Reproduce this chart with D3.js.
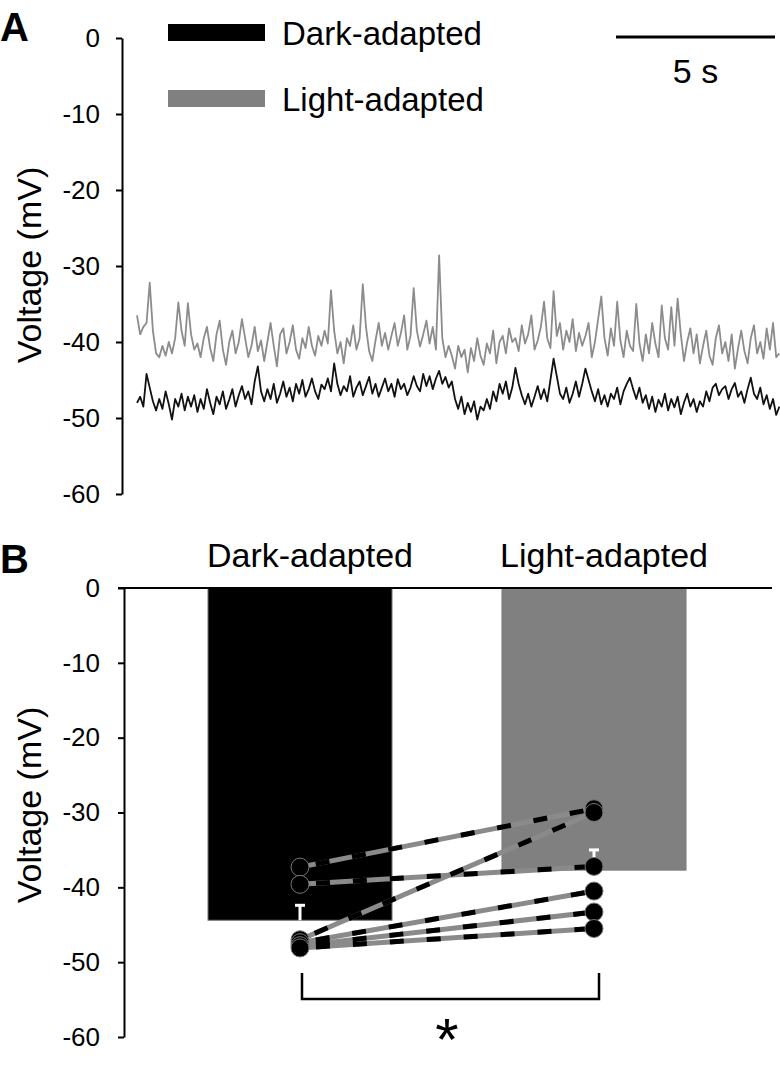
<!DOCTYPE html>
<html>
<head>
<meta charset="utf-8">
<script src="https://cdn.jsdelivr.net/npm/d3@7"></script>
<style>
  html, body { margin: 0; padding: 0; background: #fff; }
  svg { display: block; font-family: "Liberation Sans", Arial, sans-serif; }
</style>
</head>
<body>
<svg id="chart" width="780" height="1077"></svg>
<script>
// ---------------- DATA ----------------
const sampleStep = 0.1; // seconds between trace samples
const lightTrace = [
  -36.5, -39, -38, -37.5, -32.2, -38.5, -41.5, -42, -40.5, -41.8,
  -40, -41.5, -39.5, -34.8, -38.5, -40.5, -34.9, -39, -41, -40.2,
  -42, -39.5, -38, -40.8, -42.5, -39, -37.2, -41, -43, -40,
  -38.5, -41.5, -40, -37, -39.5, -42, -40.5, -38, -41.2, -39.8,
  -42.5, -40, -37.5, -40.5, -43.2, -39, -38.2, -41.5, -40, -37.8,
  -41, -42.2, -39.5, -40.8, -38, -40.5, -41.8, -39.2, -40.5, -38.5,
  -40.2, -33.2, -38.5, -41.5, -40, -42.8, -39.5, -40.5, -37.8, -41,
  -39.5, -32.4, -38, -41.2, -42.5, -39.8, -37.5, -40.5, -38.8, -41,
  -39.2, -37.5, -40.5, -38.8, -36.5, -41, -39.2, -32.9, -38.5, -40.6,
  -39, -37.2, -40.2, -38, -41, -28.6, -39.5, -42, -40.5, -41.8,
  -43.5, -40.5, -42, -41, -44, -40.8, -42.5, -39.5, -41.8, -43,
  -40.2, -41.5, -38.5, -42.8, -40, -39.2, -41.5, -38.2, -40, -39.5,
  -41.2, -37.8, -40.2, -39, -36.5, -41, -39.8, -38, -34.7, -39.5,
  -40.8, -33.3, -39.2, -37.5, -41, -38.5, -40, -37, -41.2, -38.8,
  -40.5, -39.2, -37.5, -42, -40, -37, -34, -39.5, -41.8, -38.2,
  -40.5, -34.7, -39.8, -42, -38.5, -40.5, -41.2, -35, -40.2, -42.5,
  -39, -41.5, -37.5, -40.2, -42, -35.2, -39.5, -41, -35.4, -40.5,
  -34.3, -39, -42.5, -40, -38.2, -41.5, -39, -42.8, -40.5, -38.5,
  -41.8, -43, -39.5, -37.8, -41.5, -40, -42.5, -39, -43.5, -40.8,
  -38.5, -41.2, -42.8, -39.5, -37.8, -41.5, -40, -42.2, -38.2, -41,
  -37.5, -42, -41.5
];
const darkTrace = [
  -48, -47.2, -48.5, -44.2, -46, -47.8, -49, -47.5, -48.8, -46.5,
  -48.2, -50.2, -47.5, -48.5, -46.8, -49, -47.2, -48.5, -47, -49.2,
  -47.5, -48.8, -46.2, -48, -49.5, -47.2, -48.2, -46.5, -48.8, -47.6,
  -46.2, -48.5, -47, -45.8, -47.5, -46.5, -48.2, -45.2, -43.2, -46.5,
  -47.8, -46.2, -47.5, -45.5, -48, -46.8, -45.2, -47.2, -46, -47.8,
  -45.5, -46.8, -45, -47.2, -46.2, -44.8, -46.5, -47.5, -45.6, -46.2,
  -44.8, -46.5, -42.8, -45.5, -47, -45.8, -46.5, -44.5, -47.2, -46,
  -45.2, -47, -45.8, -44.6, -46.8, -45.5, -47.2, -46, -44.8, -46.5,
  -45.5, -47.2, -44.9, -46.2, -45.5, -47, -46, -44.5, -45.8, -46.5,
  -44.2, -45.8, -44.5, -46.2, -44.8, -43.8, -45.5, -44.6, -46, -45.2,
  -47.5, -48.8, -47.2, -49.5, -48, -49.2, -47.8, -50.2, -48.5, -49,
  -47.5, -48.8, -46.5, -47.8, -45.5, -46.8, -45.2, -47.5, -46, -43.4,
  -45.5, -47, -48.2, -46.8, -48.5, -47.2, -45.8, -47.5, -46.2, -47.8,
  -45, -42.2, -44.5, -46.8, -47.5, -46, -48, -46.8, -45.2, -47.2,
  -45.5, -43.5, -45, -46.5, -47.8, -46.2, -48.2, -47, -48.5, -46.8,
  -47.5, -46, -48.2, -46.5, -45.5, -44.7, -46.2, -47.5, -46, -48,
  -47, -48.8, -47.2, -49.2, -47.6, -48.5, -46.8, -49, -47.5, -48.6,
  -47.2, -49.5, -48, -46.8, -48.5, -47.5, -49.2, -47.8, -48.5, -46.5,
  -47.8, -46, -45.5, -47, -46.2, -45.8, -47.5, -46.2, -45.4, -47.2,
  -46.5, -48, -46.2, -44.7, -46.8, -47.5, -46, -48.2, -47, -48.8,
  -47.5, -49.6, -48.5
];
const legendLabels = ["Dark-adapted", "Light-adapted"];
const scaleBarSeconds = 5;
const scaleBarLabel = "5 s";
const yTicks = [0, -10, -20, -30, -40, -50, -60];

const conditions = ["Dark-adapted", "Light-adapted"];
const barMeans = [-44.4, -37.7];
const barSem = [2.0, 2.7];
const darkCells = [-37.3, -39.6, -47.0, -47.4, -47.8, -48.1];
const lightCells = [-29.5, -37.2, -30.0, -40.5, -43.3, -45.5];
const yLabel = "Voltage (mV)";
const sigLabel = "*";

// ---------------- DRAW ----------------
const svg = d3.select("#chart");
const FONT_TICK = 26;
const GRAY = "#8c8c8c";

// ===== Panel A =====
const yA = d3.scaleLinear().domain([-60, 0]).range([494, 38]);
const tA = d3.scaleLinear().domain([0, 20.2]).range([137, 779.4]);

const axA = svg.append("g").attr("transform", "translate(122,0)")
  .call(d3.axisLeft(yA).tickValues(yTicks).tickSize(6).tickSizeOuter(0).tickPadding(16));
axA.select(".domain").attr("stroke", "#000").attr("stroke-width", 2);
axA.selectAll(".tick line").attr("stroke", "#000").attr("stroke-width", 2);
axA.selectAll(".tick text").attr("font-size", FONT_TICK).attr("fill", "#000")
  .attr("font-family", "Liberation Sans, Arial, sans-serif").text(d => String(d));

const line = d3.line().x((d, i) => tA(i * sampleStep)).y(d => yA(d));
svg.append("path").datum(lightTrace).attr("d", line)
  .attr("fill", "none").attr("stroke", GRAY).attr("stroke-width", 1.8).attr("stroke-linejoin", "round");
svg.append("path").datum(darkTrace).attr("d", line)
  .attr("fill", "none").attr("stroke", "#111").attr("stroke-width", 1.8).attr("stroke-linejoin", "round");

// legend
const legColors = ["#000", "#808080"];
const leg = svg.append("g");
legendLabels.forEach((lab, i) => {
  const y0 = 24 + i * 66;
  leg.append("rect").attr("x", 168).attr("y", y0).attr("width", 97).attr("height", 17).attr("fill", legColors[i]);
  leg.append("text").attr("x", 282).attr("y", y0 + 21).attr("font-size", 33).attr("fill", "#000").text(lab);
});

// scale bar
const sbX1 = 775, sbX0 = sbX1 - (tA(scaleBarSeconds) - tA(0));
svg.append("line").attr("x1", sbX0).attr("x2", sbX1).attr("y1", 37).attr("y2", 37)
  .attr("stroke", "#000").attr("stroke-width", 3);
svg.append("text").attr("x", (sbX0 + sbX1) / 2).attr("y", 83).attr("text-anchor", "middle")
  .attr("font-size", 34).attr("fill", "#000").text(scaleBarLabel);

// y label A
svg.append("text").attr("transform", "translate(41,265) rotate(-90)").attr("text-anchor", "middle")
  .attr("font-size", 34).attr("fill", "#000").text(yLabel);

// panel letter A
svg.append("text").attr("x", 0).attr("y", 41).attr("font-size", 40).attr("font-weight", "bold").text("A");

// ===== Panel B =====
const yB = d3.scaleLinear().domain([-60, 0]).range([1037, 588]);
const xB = d3.scaleBand().domain(conditions).range([153, 741]).paddingInner(0.374).paddingOuter(0.187);

const axB = svg.append("g").attr("transform", "translate(124,0)")
  .call(d3.axisLeft(yB).tickValues(yTicks).tickSize(6).tickSizeOuter(0).tickPadding(18));
axB.select(".domain").attr("stroke", "#000").attr("stroke-width", 2);
axB.selectAll(".tick line").attr("stroke", "#000").attr("stroke-width", 2);
axB.selectAll(".tick text").attr("font-size", FONT_TICK).attr("fill", "#000")
  .attr("font-family", "Liberation Sans, Arial, sans-serif").text(d => String(d));

// bars
const barColors = ["#000", "#808080"];
svg.append("g").selectAll("rect").data(conditions).join("rect")
  .attr("x", d => xB(d))
  .attr("y", yB(0))
  .attr("width", xB.bandwidth())
  .attr("height", (d, i) => yB(barMeans[i]) - yB(0))
  .attr("fill", (d, i) => barColors[i])
  .attr("stroke", "#7a7a7a").attr("stroke-width", 1);

// zero line
svg.append("line").attr("x1", 118).attr("x2", 772).attr("y1", yB(0)).attr("y2", yB(0))
  .attr("stroke", "#000").attr("stroke-width", 2);

// error bars (white, pointing toward zero)
const eb = svg.append("g").attr("stroke", "#fff").attr("stroke-width", 3);
conditions.forEach((c, i) => {
  const cx = xB(c) + xB.bandwidth() / 2;
  const yEnd = yB(barMeans[i]);
  const yTop = yB(barMeans[i] + barSem[i]);
  eb.append("line").attr("x1", cx).attr("x2", cx).attr("y1", yEnd).attr("y2", yTop);
  eb.append("line").attr("x1", cx - 5).attr("x2", cx + 5).attr("y1", yTop).attr("y2", yTop);
});

// category labels
svg.append("g").selectAll("text").data(conditions).join("text")
  .attr("x", d => xB(d) + xB.bandwidth() / 2 + 10)
  .attr("y", 567).attr("text-anchor", "middle").attr("font-size", 34).attr("fill", "#000")
  .text(d => d);

// paired lines
const cxD = xB(conditions[0]) + xB.bandwidth() / 2;
const cxL = xB(conditions[1]) + xB.bandwidth() / 2;
const pairs = darkCells.map((v, i) => [v, lightCells[i]]);
const pg = svg.append("g");
pairs.forEach(p => {
  pg.append("line").attr("x1", cxD).attr("y1", yB(p[0])).attr("x2", cxL).attr("y2", yB(p[1]))
    .attr("stroke", "#8a8a8a").attr("stroke-width", 5);
});
pairs.forEach(p => {
  pg.append("line").attr("x1", cxD).attr("y1", yB(p[0])).attr("x2", cxL).attr("y2", yB(p[1]))
    .attr("stroke", "#000").attr("stroke-width", 5).attr("stroke-dasharray", "14,23").attr("stroke-dashoffset", -16);
});
// points
const ptg = svg.append("g");
darkCells.forEach(v => ptg.append("circle").attr("cx", cxD).attr("cy", yB(v)).attr("r", 9)
  .attr("fill", "#000").attr("stroke", "#777").attr("stroke-width", 1));
lightCells.forEach(v => ptg.append("circle").attr("cx", cxL).attr("cy", yB(v)).attr("r", 9)
  .attr("fill", "#000").attr("stroke", "#777").attr("stroke-width", 1));

// significance bracket
svg.append("path")
  .attr("d", `M${cxD + 2},973 V999 H${cxL + 5} V973`)
  .attr("fill", "none").attr("stroke", "#000").attr("stroke-width", 2.5);
svg.append("text").attr("x", (cxD + cxL) / 2).attr("y", 1060).attr("text-anchor", "middle")
  .attr("font-size", 60).attr("fill", "#000").text(sigLabel);

// y label B
svg.append("text").attr("transform", "translate(41,805) rotate(-90)").attr("text-anchor", "middle")
  .attr("font-size", 34).attr("fill", "#000").text(yLabel);

// panel letter B
svg.append("text").attr("x", 0).attr("y", 573).attr("font-size", 40).attr("font-weight", "bold").text("B");
</script>
</body>
</html>
